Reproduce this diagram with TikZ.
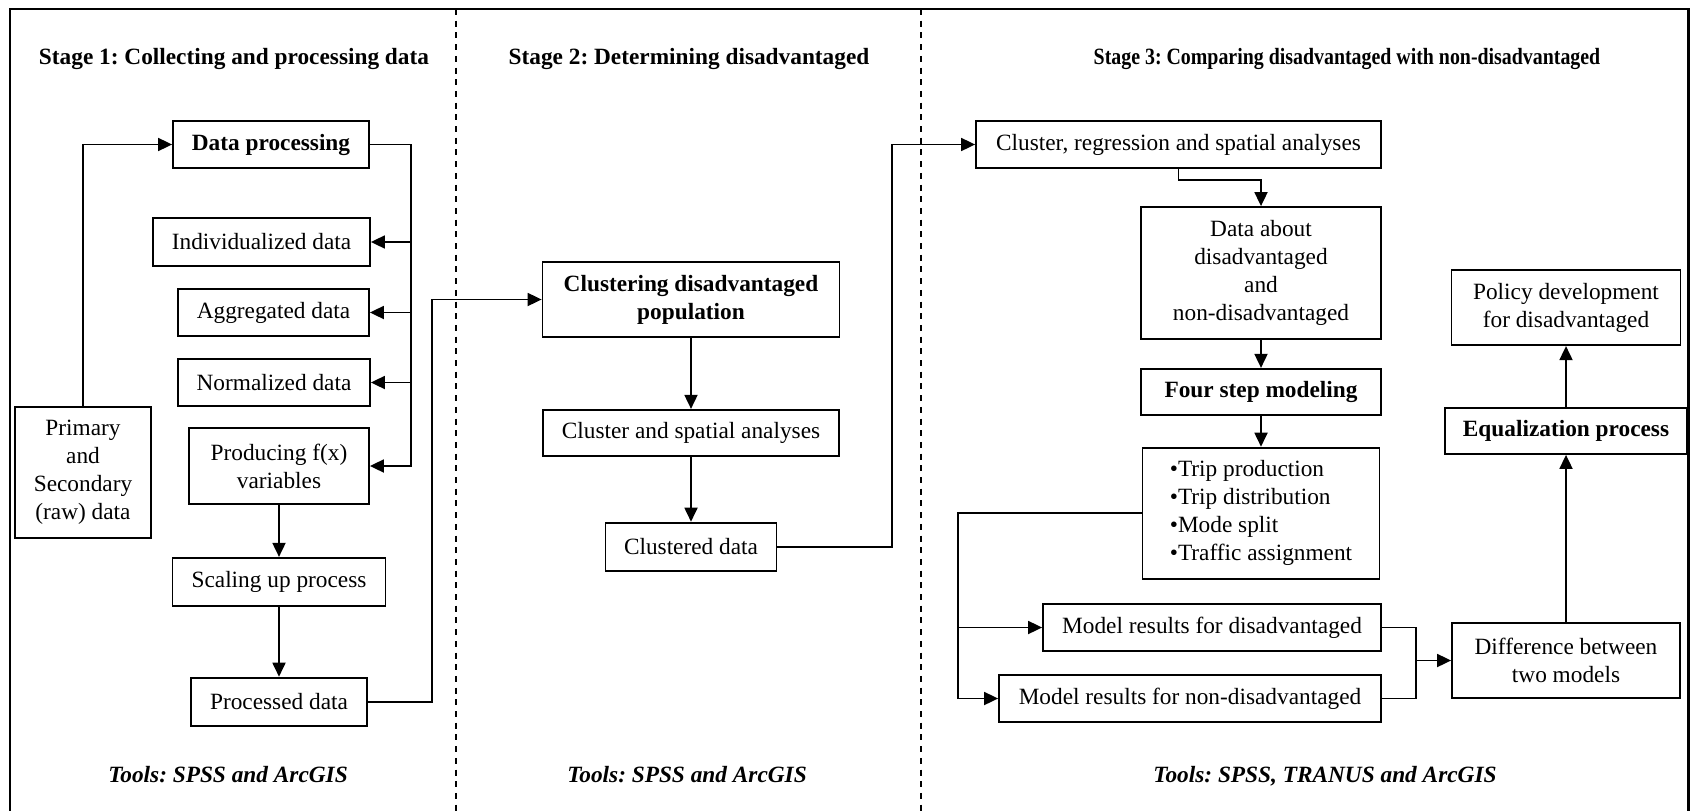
\documentclass[tikz,border=0pt]{standalone}
\usepackage{fontspec}
\setmainfont{Liberation Serif}
\usepackage{graphicx}
\usepackage{tikz}
\usetikzlibrary{arrows.meta,positioning}
\frenchspacing
\newcommand{\diagfont}{\fontsize{23.4}{28.2}\selectfont}
\newcommand{\narrow}[1]{\scalebox{0.853}[1]{#1}}
\tikzset{
  box/.style      = {rectangle, draw, line width=1.8bp, align=center,
                     inner sep=2bp, font=\diagfont},
  boldbox/.style  = {box, font=\diagfont\bfseries},
  wh/.style 2 args = {minimum width=#1bp, minimum height=#2bp},
  stagetitle/.style = {anchor=base, inner sep=0pt, font=\diagfont\bfseries},
  toolnote/.style = {anchor=base, inner sep=0pt, font=\diagfont\bfseries\itshape},
  link/.style     = {line width=1.8bp},
  arr/.style      = {link, -{Triangle[length=14bp,width=13bp]}},
  divider/.style  = {line width=1.6bp, dash pattern=on 6bp off 5.7bp},
  outer/.style    = {line width=2.8bp},
}

\begin{document}
\begin{tikzpicture}[x=1bp, y=-1bp]
\useasboundingbox (0,0) rectangle (1693,811);

% frame and stage dividers
\draw[outer] (10,811) -- (10,9) -- (1688.5,9) -- (1688.5,811);
\draw[divider] (456,9) -- (456,811);
\draw[divider] (921,9) -- (921,811);

% stage headings
\node[stagetitle] (title1) at (234,65) {Stage 1: Collecting and processing data};
\node[stagetitle] (title2) at (689,65) {Stage 2: Determining disadvantaged};
\node[stagetitle] (title3) at (1347,65) {\narrow{Stage 3: Comparing disadvantaged with non-disadvantaged}};

% Stage 1
\node[boldbox, wh={196}{47}] (dproc) at (271,144.5) {Data processing};
\node[box, wh={217}{48}] (indiv) at (261.5,242) {Individualized data};
\node[box, wh={191}{47}] (aggr) at (273.5,312.5) {Aggregated data};
\node[box, wh={192}{47}] (norm) at (274,382.5) {Normalized data};
\node[box, wh={136}{131}] (prim) at (83,472.5) {Primary\\and\\Secondary\\(raw) data};
\node[box, wh={180}{76}] (fx) at (279,466) {Producing f(x)\\variables};
\node[box, wh={213}{48}, below=52bp of fx] (scaleup) {Scaling up process};
\node[box, wh={176}{48}, below=70bp of scaleup] (procd) {Processed data};

\coordinate (spine1) at (411,0);
\coordinate (jog1) at (432,0);
\draw[arr] (prim.north) |- (dproc.west);
\draw[arr] (dproc.east) -| (spine1 |- fx.east) -- (fx.east);
\foreach \n in {indiv,aggr,norm}
  \draw[arr] (spine1 |- \n.east) -- (\n.east);
\draw[arr] (fx) -- (scaleup);
\draw[arr] (scaleup) -- (procd);

% Stage 2
\node[boldbox, wh={297}{75}] (clust) at (691,299.5) {Clustering disadvantaged\\population};
\node[box, wh={296}{46}, below=71bp of clust] (cspat) {Cluster and spatial analyses};
\node[box, wh={171}{48}, below=65bp of cspat] (cdata) {Clustered data};

\coordinate (jog2) at (892,0);
\draw[arr] (procd.east) -| (jog1 |- clust.west) -- (clust.west);
\draw[arr] (clust) -- (cspat);
\draw[arr] (cspat) -- (cdata);

% Stage 3
\node[box, wh={405}{47}] (creg) at (1178.5,144.5) {Cluster, regression and spatial analyses};
\node[box, wh={240}{132}] (dabout) at (1261,273) {Data about\\disadvantaged\\and\\non-disadvantaged};
\node[boldbox, wh={240}{46}, below=28bp of dabout] (four) {Four step modeling};
\node[box, wh={237}{131}, align=left, below=31bp of four] (steps) {%
  \textbullet Trip production\\
  \textbullet Trip distribution\\
  \textbullet Mode split\\
  \textbullet Traffic assignment};
\node[box, wh={338}{47}] (mdis) at (1212,627.5) {Model results for disadvantaged};
\node[box, wh={382}{47}] (mnon) at (1190,698.5) {Model results for non-disadvantaged};
\node[box, wh={228}{75}] (diff) at (1566,660.5) {Difference between\\two models};
\node[boldbox, wh={242}{46}] (equal) at (1566,431) {Equalization process};
\node[box, wh={229}{75}, above=61bp of equal] (policy) {Policy development\\for disadvantaged};

\coordinate (spine3) at (958,0);
\coordinate (join) at (1416,660.5);
\draw[arr] (cdata.east) -| (jog2 |- creg.west) -- (creg.west);
\draw[arr] (creg.south) -- ++(0,11) -| (dabout.north);
\draw[arr] (dabout) -- (four);
\draw[arr] (four) -- (steps);
\draw[arr] (steps.west) -| (spine3 |- mnon.west) -- (mnon.west);
\draw[arr] (spine3 |- mdis.west) -- (mdis.west);
\draw[link] (mdis.east) -| (join) |- (mnon.east);
\draw[arr] (join) -- (diff.west);
\draw[arr] (diff) -- (equal);
\draw[arr] (equal) -- (policy);

% tools per stage
\node[toolnote] (tools1) at (228,782) {Tools: SPSS and ArcGIS};
\node[toolnote] (tools2) at (687,782) {Tools: SPSS and ArcGIS};
\node[toolnote] (tools3) at (1325,782) {Tools: SPSS, TRANUS and ArcGIS};

\end{tikzpicture}
\end{document}
